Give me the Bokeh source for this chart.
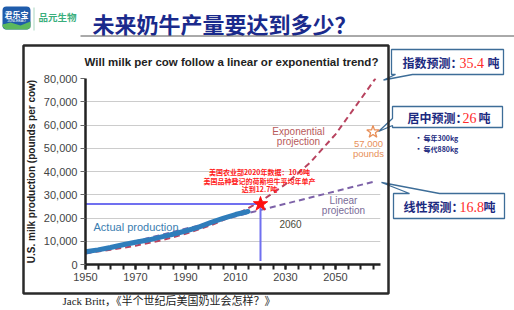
from bokeh.plotting import figure
from bokeh.models import Range1d, FixedTicker, NumeralTickFormatter, Label, GridBox
from bokeh.core.properties import value
from bokeh.embed import file_html
from bokeh.resources import INLINE

# ---- data -----------------------------------------------------------------
actual_years = [1950, 1955, 1960, 1965, 1970, 1975, 1980, 1985, 1990, 1995,
                2000, 2005, 2010, 2015]
actual_milk = [5500, 6300, 7300, 8500, 9600, 10500, 11800, 13000, 14400, 16000,
               18000, 19800, 21500, 22800]

exp_years = [1950, 1960, 1970, 1980, 1990, 2000, 2010, 2020, 2030, 2040, 2050,
             2060, 2066]
exp_milk = [5000, 6300, 8100, 10300, 13200, 16800, 21300, 27100, 34500, 44000,
            56000, 71000, 80000]

lin_years = [1950, 2066]
lin_milk = [4600, 35800]

usda_year, usda_milk = 2020, 26000          # 2020 herd average (red star)
target_year, target_milk = 2065, 57000      # 57,000 pounds (open star)

y_ticks = [0, 10000, 20000, 30000, 40000, 50000, 60000, 70000, 80000]
x_major = [1950, 1970, 1990, 2010, 2030, 2050]
x_minor = list(range(1950, 2070, 5))

SANS = "Liberation Sans"
CJK = "Noto Sans CJK SC"
SERIF = "Liberation Serif"
NAVY = "#1c2a80"
W, H = 514, 310

# ---- slide layer: header, frame, callouts, source (page pixel coords) ------
page = figure(width=W, height=H, frame_width=W, frame_height=H,
              output_backend="svg", toolbar_location=None,
              x_range=Range1d(0, W), y_range=Range1d(H, 0),
              x_axis_location=None, y_axis_location=None, min_border=0)
page.frame_align = False
page.outline_line_color = None
page.grid.visible = False


def txt(s, x, y, size, color, font=SANS, style="normal", align="left"):
    page.text(x=[x], y=[y], text=[s], text_font=value(font),
              text_font_size=value(size), text_color=color,
              text_font_style=style, text_align=align, text_baseline="middle")


# logo and header
page.quad(left=[2], right=[30], top=[6], bottom=[29], fill_color="#1f5cab",
          line_color=None, border_radius=4)
page.patch([2, 10, 20, 30, 30, 27, 5, 2], [24, 22, 25, 21, 27, 29, 29, 26],
           fill_color="#5bb85d", line_color=None)
txt("君乐宝", 16, 14, "8px", "white", CJK, "bold", "center")
txt("JUNLEBAO", 16, 20.5, "3.5px", "white", SANS, "normal", "center")
page.segment(x0=[33.5], y0=[7], x1=[33.5], y1=[30], line_color="#a8d5c0", line_width=1)
txt("品元生物", 38, 16, "9.5px", "#3aae7c", CJK, "bold")
txt("未来奶牛产量要达到多少？", 92, 22, "22px", "#1a2a8c", CJK, "bold")
page.segment(x0=[80], y0=[35.5], x1=[W], y1=[35.5], line_color="#555555", line_width=1)

# chart title
txt("Will milk per cow follow a linear or exponential trend?", 231, 61,
    "11.5px", "#222222", SANS, "bold", "center")

# 57,000-pound target caption (runs past the plot edge)
txt("57,000", 368, 143, "9.5px", "#e8905a", SANS, "normal", "center")
txt("pounds", 368, 153, "9.5px", "#e8905a", SANS, "normal", "center")

# callout boxes
CALL = "#3d6d98"
callouts = [
    [(391, 49), (503, 49), (503, 74), (412, 74), (383, 79.5), (395, 74), (391, 74)],
    [(392, 106), (502, 106), (502, 127), (392, 127), (392, 125), (378, 131), (392, 118)],
    [(393, 193), (409, 193), (381, 182), (439, 193), (504, 193), (504, 218), (393, 218)],
]
for pts in callouts:
    page.patch([x for x, _ in pts], [y for _, y in pts], fill_color="white",
               line_color=CALL, line_width=1.3)

txt("指数预测：", 402, 62, "12px", NAVY, CJK, "bold")
txt("35.4", 459, 62, "14px", "#ff2a2a", SERIF)
txt("吨", 487, 62, "12px", NAVY, CJK, "bold")
txt("居中预测：", 407, 117, "12px", NAVY, CJK, "bold")
txt("26", 462, 117, "14px", "#ff2a2a", SERIF)
txt("吨", 478, 117, "12px", NAVY, CJK, "bold")
txt("线性预测：", 403, 206, "12px", NAVY, CJK, "bold")
txt("16.8", 459, 206, "14px", "#ff2a2a", SERIF)
txt("吨", 483, 206, "12px", NAVY, CJK, "bold")

txt("▪", 415, 137, "6px", NAVY, CJK)
txt("每年300kg", 423, 137, "7px", NAVY, CJK, "bold")
txt("▪", 415, 148, "6px", NAVY, CJK)
txt("每代880kg", 423, 148, "7px", NAVY, CJK, "bold")

# outer chart frame
page.quad(left=[23], right=[388], top=[45], bottom=[293], fill_alpha=0,
          line_color="#2a2a2a", line_width=2.5)

# source line
txt("Jack Britt，《半个世纪后美国奶业会怎样？》", 62, 300, "11px", "#222222",
    f"'{SERIF}', '{CJK}'")

# ---- chart layer ------------------------------------------------------------
chart = figure(width=W, height=H, output_backend="svg", toolbar_location=None,
               x_range=Range1d(1950, 2068), y_range=Range1d(0, 80000),
               min_border_left=85, min_border_right=W - 380,
               min_border_top=78, min_border_bottom=H - 264)
chart.frame_align = False
chart.outline_line_color = None
chart.background_fill_alpha = 0
chart.border_fill_alpha = 0

chart.xaxis.ticker = FixedTicker(ticks=x_major, minor_ticks=x_minor)
chart.xaxis.axis_line_color = "#222222"
chart.xaxis.axis_line_width = 2.5
chart.xaxis.major_tick_line_color = "#222222"
chart.xaxis.minor_tick_line_color = "#222222"
chart.xaxis.major_tick_line_width = 2
chart.xaxis.minor_tick_line_width = 2
chart.xaxis.major_tick_in = 0
chart.xaxis.minor_tick_in = 0
chart.xaxis.major_tick_out = 5
chart.xaxis.minor_tick_out = 5
chart.xaxis.major_label_text_font = SANS
chart.xaxis.major_label_text_font_size = "11px"
chart.xaxis.major_label_text_color = "#444444"
chart.xaxis.major_label_standoff = 3

chart.yaxis.ticker = FixedTicker(ticks=y_ticks)
chart.yaxis.formatter = NumeralTickFormatter(format="0,0")
chart.yaxis.axis_line_color = "#222222"
chart.yaxis.axis_line_width = 2.5
chart.yaxis.major_tick_line_color = "#666666"
chart.yaxis.major_tick_in = 0
chart.yaxis.major_tick_out = 5
chart.yaxis.minor_tick_line_color = None
chart.yaxis.major_label_text_font = SANS
chart.yaxis.major_label_text_font_size = "11px"
chart.yaxis.major_label_text_color = "#444444"
chart.yaxis.major_label_standoff = 3
chart.yaxis.axis_label = "U.S. milk production (pounds per cow)"
chart.yaxis.axis_label_text_font = SANS
chart.yaxis.axis_label_text_font_style = "bold"
chart.yaxis.axis_label_text_font_size = "10px"
chart.yaxis.axis_label_text_color = "#222222"
chart.yaxis.axis_label_standoff = 4

chart.xgrid.grid_line_color = None
chart.ygrid.grid_line_color = "#cccccc"
chart.ygrid.grid_line_width = 1

# series
chart.line(exp_years, exp_milk, line_color="#b8435f", line_width=2, line_dash="6 4")
chart.line(lin_years, lin_milk, line_color="#7d62a8", line_width=2, line_dash="6 4")
chart.line(actual_years, actual_milk, line_color="#2f7dbb", line_width=5,
           line_cap="round", line_join="round")

# 2020 guide lines and markers
chart.line([1950, usda_year], [usda_milk, usda_milk], line_color="#7070f0", line_width=2)
chart.line([usda_year, usda_year], [usda_milk, 1500], line_color="#7070f0", line_width=2)
chart.scatter([usda_year], [usda_milk], marker="star", size=15,
              fill_color="#ff1010", line_color="#ff1010")
chart.scatter([target_year], [target_milk], marker="star", size=13,
              fill_color="white", line_color="#e8905a", line_width=1.3)


def note(s, x, y, size, color, font=SANS, style="normal", align="left"):
    chart.add_layout(Label(text=s, x=x, y=y, text_font=font, text_font_size=size,
                           text_color=color, text_font_style=style,
                           text_align=align, text_baseline="middle"))


note("Actual production", 1953.2, 16300, "11px", "#3a7db0")
note("Exponential", 2035.2, 57200, "10px", "#b85a5a", align="center")
note("projection", 2035.2, 52900, "10px", "#b85a5a", align="center")
note("Linear", 2053.2, 27500, "10px", "#7a6c98", align="center")
note("projection", 2053.2, 23200, "10px", "#7a6c98", align="center")
note("2060", 2032, 17600, "10px", "#4a4a3a", align="center")
note("美国农业部2020年数据：10.6吨", 2019.6, 39600, "7px", "#ff1a1a", CJK, "bold", "center")
note("美国品种登记的荷斯坦牛平均年单产", 2019.6, 36100, "7px", "#ff1a1a", CJK, "bold", "center")
note("达到12.7吨", 2019.6, 32300, "7px", "#ff1a1a", CJK, "bold", "center")

# slide layer underneath, chart layer on top, sharing one grid cell
p = GridBox(children=[(page, 0, 0), (chart, 0, 0)])

open("out.html", "w").write(file_html(p, INLINE))
